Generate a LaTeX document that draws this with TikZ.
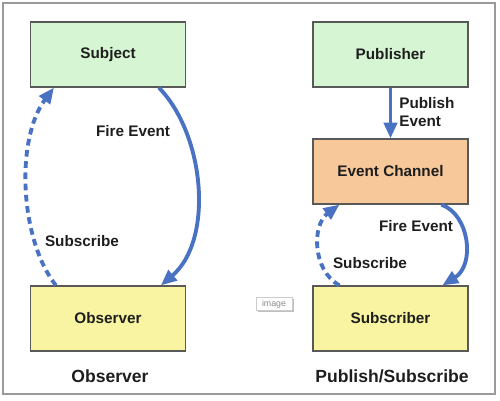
\documentclass[tikz,border=0pt]{standalone}
\usepackage{fontspec}
\setmainfont{Liberation Sans}
\usetikzlibrary{arrows.meta,calc}
\definecolor{boxgreen}{HTML}{D6F5D3}
\definecolor{boxorange}{HTML}{F7C89A}
\definecolor{boxyellow}{HTML}{F8F4A2}
\definecolor{arrowblue}{HTML}{4A72C2}
\definecolor{txt}{HTML}{1E1E1E}
\definecolor{frame}{HTML}{9A9A9A}
\tikzset{
  box/.style={draw=black!65, line width=0.7pt, minimum width=3.1cm, minimum height=1.3cm,
    inner sep=0pt, font=\fontsize{8.7}{10.4}\selectfont\bfseries, text=txt},
  greenbox/.style={box, fill=boxgreen},
  orangebox/.style={box, fill=boxorange},
  yellowbox/.style={box, fill=boxyellow},
  lbl/.style={font=\fontsize{8.7}{10.4}\selectfont\bfseries, text=txt, inner sep=0pt},
  caption/.style={font=\fontsize{10}{12}\selectfont\bfseries, text=txt, inner sep=0pt},
  flow/.style={draw=arrowblue, line width=2.2pt,
    -{Triangle[length=9pt,width=7.5pt]}},
  subflow/.style={flow, dash pattern=on 3.8pt off 2.6pt}
}
\begin{document}
\begin{tikzpicture}[x=0.02cm,y=-0.02cm]
\useasboundingbox (0,0) rectangle (500,400);
\draw[frame, line width=1.1pt] (3,3) rectangle (495,394);

% Observer side
\node[greenbox] (subj) at (108,54.5) {Subject};
\node[yellowbox] (obs) at (108,318.5) {Observer};
\node[lbl] (fire1) at (133,131) {Fire Event};
\node[lbl] (subs1) at (82,241) {Subscribe};
\node[caption] (cap1) at (110,376) {Observer};

\draw[flow] ($(subj.south west)+(129,0)$) .. controls (205,135) and (214,240) .. ($(obs.north west)+(131,0)$);
\draw[subflow] ($(obs.north west)+(26,0)$) .. controls (20,240) and (15,140) .. ($(subj.south west)+(24,0)$);

% Publish/Subscribe side
\node[greenbox] (pub) at (390.5,54.5) {Publisher};
\node[orangebox] (chan) at (390.5,171.5) {Event Channel};
\node[yellowbox] (subr) at (390.5,318.5) {Subscriber};
\node[lbl, align=left, anchor=west] (pubev) at (399,112) {Publish\\Event};
\node[lbl] (fire2) at (416,226) {Fire Event};
\node[lbl] (subs2) at (370,263) {Subscribe};
\node[caption, anchor=west] (cap2) at (315,376) {Publish/Subscribe};

\draw[flow] (pub.south) -- (chan.north);
\draw[flow] ($(chan.south west)+(129,0)$) .. controls (470,215) and (475,265) .. ($(subr.north west)+(130,0)$);
\draw[subflow] ($(subr.north west)+(27,0)$) .. controls (312,270) and (312,225) .. ($(chan.south west)+(27,0)$);

% small placeholder tag
\fill[black!25] (258,299) rectangle (294,312);
\node[draw=black!20, fill=white, minimum width=0.72cm, minimum height=0.26cm, inner sep=0pt,
  font=\fontsize{5}{6}\selectfont, text=black!45] (tag) at (274,304) {image};
\end{tikzpicture}
\end{document}
